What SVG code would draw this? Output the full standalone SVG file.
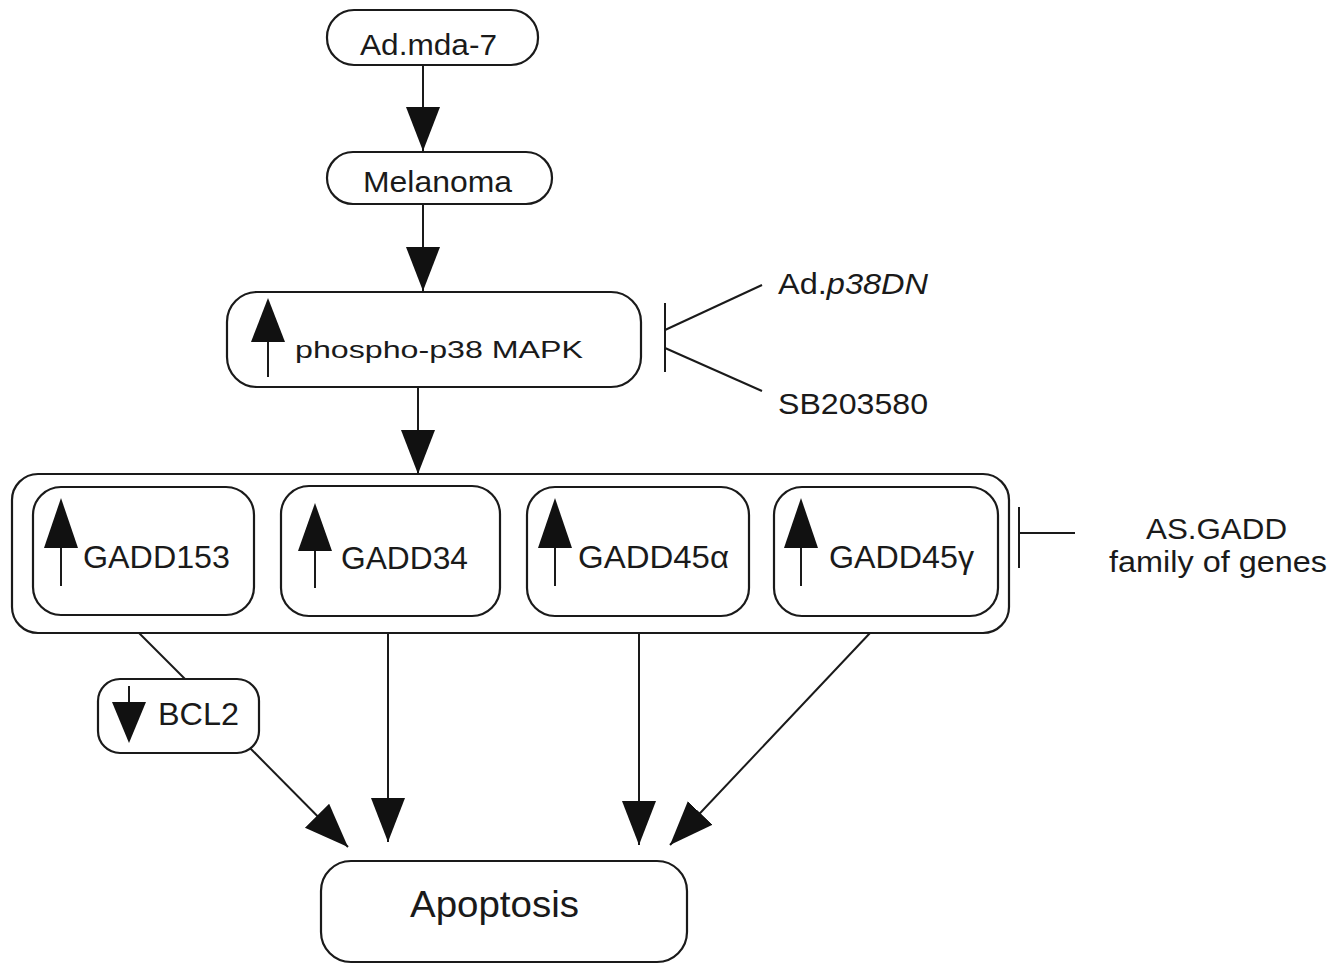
<svg xmlns="http://www.w3.org/2000/svg" width="1344" height="964" viewBox="0 0 1344 964">
<style>
.box{fill:#fff;stroke:#1a1a1a;stroke-width:2.2}
.ln{fill:none;stroke:#1a1a1a;stroke-width:2}
.hd{fill:#111;stroke:none}
.t{font-family:"Liberation Sans",Arial,Helvetica,sans-serif;fill:#1a1a1a}
</style>
<defs>
<marker id="ah" markerUnits="userSpaceOnUse" markerWidth="46" markerHeight="36" refX="44" refY="17" orient="auto" viewBox="0 0 46 36">
<path d="M0,0 L44,17 L0,34 z" fill="#111"/>
</marker>
</defs>
<rect width="1344" height="964" fill="#fff"/>

<g id="connectors">
<line class="ln" x1="423" y1="65" x2="423" y2="151" marker-end="url(#ah)"/>
<line class="ln" x1="423" y1="204" x2="423" y2="291" marker-end="url(#ah)"/>
<line class="ln" x1="418" y1="387" x2="418" y2="474" marker-end="url(#ah)"/>
<line class="ln" x1="120" y1="614" x2="185" y2="679"/>
<line class="ln" x1="250" y1="748" x2="348" y2="847" marker-end="url(#ah)"/>
<line class="ln" x1="388" y1="616" x2="388" y2="842" marker-end="url(#ah)"/>
<line class="ln" x1="639" y1="616" x2="639" y2="845" marker-end="url(#ah)"/>
<line class="ln" x1="887" y1="615" x2="670" y2="845" marker-end="url(#ah)"/>
<line class="ln" x1="762" y1="285" x2="665" y2="330"/>
<line class="ln" x1="762" y1="391" x2="665" y2="348"/>
<line class="ln" x1="665" y1="303" x2="665" y2="372"/>
<line class="ln" x1="1019" y1="507" x2="1019" y2="568"/>
<line class="ln" x1="1019" y1="533" x2="1075" y2="533"/>
</g>

<g id="ad_mda7">
<rect class="box" x="327" y="10" width="211" height="55" rx="27"/>
<text class="t" x="360" y="55" font-size="30" textLength="137" lengthAdjust="spacingAndGlyphs">Ad.mda-7</text>
</g>

<g id="melanoma">
<rect class="box" x="327" y="152" width="225" height="52" rx="26"/>
<text class="t" x="363" y="192" font-size="30" textLength="149" lengthAdjust="spacingAndGlyphs">Melanoma</text>
</g>

<g id="phospho_p38">
<rect class="box" x="227" y="292" width="414" height="95" rx="30"/>
<polygon class="hd" points="268,298 285,342 251,342"/>
<line class="ln" x1="268" y1="342" x2="268" y2="377"/>
<text class="t" x="295" y="358" font-size="24" textLength="288" lengthAdjust="spacingAndGlyphs">phospho-p38 MAPK</text>
</g>

<g id="ad_p38dn">
<text class="t" x="778" y="294" font-size="29" textLength="150" lengthAdjust="spacingAndGlyphs">Ad.<tspan font-style="italic">p38DN</tspan></text>
</g>

<g id="sb203580">
<text class="t" x="778" y="414" font-size="29" textLength="150" lengthAdjust="spacingAndGlyphs">SB203580</text>
</g>

<g id="gadd_family">
<rect class="box" x="12" y="474" width="997" height="159" rx="26"/>
</g>

<g id="gadd153">
<rect class="box" x="33" y="487" width="221" height="128" rx="28"/>
<polygon class="hd" points="61,498 78,548 44,548"/>
<line class="ln" x1="61" y1="548" x2="61" y2="586"/>
<text class="t" x="83" y="568" font-size="31" textLength="147" lengthAdjust="spacingAndGlyphs">GADD153</text>
</g>

<g id="gadd34">
<rect class="box" x="281" y="486" width="219" height="130" rx="28"/>
<polygon class="hd" points="315,503 332,551 298,551"/>
<line class="ln" x1="315" y1="551" x2="315" y2="588"/>
<text class="t" x="341" y="569" font-size="31" textLength="127" lengthAdjust="spacingAndGlyphs">GADD34</text>
</g>

<g id="gadd45a">
<rect class="box" x="527" y="487" width="222" height="129" rx="28"/>
<polygon class="hd" points="555,498 572,548 538,548"/>
<line class="ln" x1="555" y1="548" x2="555" y2="586"/>
<text class="t" x="578" y="568" font-size="31" textLength="151" lengthAdjust="spacingAndGlyphs">GADD45α</text>
</g>

<g id="gadd45g">
<rect class="box" x="774" y="487" width="224" height="129" rx="28"/>
<polygon class="hd" points="801,498 818,548 784,548"/>
<line class="ln" x1="801" y1="548" x2="801" y2="586"/>
<text class="t" x="829" y="568" font-size="31" textLength="145" lengthAdjust="spacingAndGlyphs">GADD45γ</text>
</g>

<g id="as_gadd">
<text class="t" x="1146" y="539" font-size="30" textLength="141" lengthAdjust="spacingAndGlyphs">AS.GADD</text>
<text class="t" x="1109" y="572" font-size="30" textLength="218" lengthAdjust="spacingAndGlyphs">family of genes</text>
</g>

<g id="bcl2">
<rect class="box" x="98" y="679" width="161" height="74" rx="22"/>
<line class="ln" x1="129" y1="686" x2="129" y2="703"/>
<polygon class="hd" points="112,702 146,702 129,743"/>
<text class="t" x="158" y="725" font-size="31" textLength="81" lengthAdjust="spacingAndGlyphs">BCL2</text>
</g>

<g id="apoptosis">
<rect class="box" x="321" y="861" width="366" height="101" rx="30"/>
<text class="t" x="410" y="917" font-size="37" textLength="169" lengthAdjust="spacingAndGlyphs">Apoptosis</text>
</g>
</svg>
